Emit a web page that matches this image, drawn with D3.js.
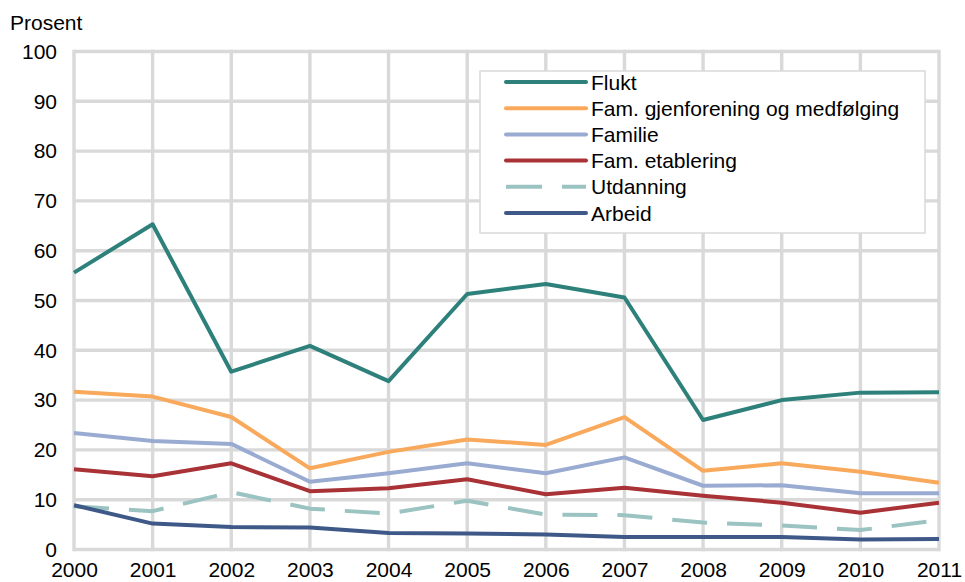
<!DOCTYPE html>
<html><head><meta charset="utf-8">
<script src="https://cdn.jsdelivr.net/npm/d3@7"></script>
<style>body{margin:0;background:#fff}svg{display:block;font-family:"Liberation Sans",Arial,sans-serif}</style>
</head><body><svg id="c" width="965" height="582"></svg>
<script>
const years = [2000,2001,2002,2003,2004,2005,2006,2007,2008,2009,2010,2011];
const yTicks = [0,10,20,30,40,50,60,70,80,90,100];
const seriesNames = ["Flukt","Fam. gjenforening og medfølging","Familie","Fam. etablering","Utdanning","Arbeid"];
const flukt = [55.6,65.3,35.7,40.9,33.8,51.3,53.3,50.6,26.0,30.0,31.5,31.6];
const famGjenforening = [31.7,30.7,26.6,16.3,19.6,22.1,21.0,26.6,15.8,17.3,15.6,13.4];
const familie = [23.4,21.8,21.2,13.6,15.3,17.3,15.3,18.5,12.8,12.9,11.3,11.3];
const famEtablering = [16.1,14.7,17.3,11.7,12.3,14.1,11.1,12.4,10.8,9.4,7.4,9.4];
const utdanning = [8.7,7.7,11.5,8.2,7.2,9.8,7.0,6.9,5.4,4.8,3.9,5.9];
const arbeid = [8.9,5.2,4.5,4.4,3.3,3.2,3.0,2.5,2.5,2.5,2.0,2.1];
const colors = ["#2e817b","#f9a95c","#9aabd2","#a83236","#9ac3c1","#3e5987"];
const dashes = [null,null,null,null,"35,20",null];
const values = [flukt,famGjenforening,familie,famEtablering,utdanning,arbeid];

const svg = d3.select("#c");
const x = d3.scalePoint().domain(years).range([74,939]);
const y = d3.scaleLinear().domain([0,100]).range([549.5,51.5]);
const grid = "#d9d9d9";
const FS = 21;

// grid
svg.append("g").selectAll("line.h").data(yTicks).join("line")
  .attr("x1",74).attr("x2",939).attr("y1",d=>y(d)).attr("y2",d=>y(d))
  .attr("stroke",grid).attr("stroke-width",3.4);
svg.append("g").selectAll("line.v").data(years).join("line")
  .attr("x1",d=>x(d)).attr("x2",d=>x(d)).attr("y1",y(100)-1.7).attr("y2",y(0)+1.7)
  .attr("stroke",grid).attr("stroke-width",3.4);

// axes
const yAxis = svg.append("g").attr("transform","translate(57,0)")
  .call(d3.axisLeft(y).tickValues(yTicks).tickSize(0).tickPadding(0));
yAxis.select(".domain").remove();
yAxis.selectAll("text").attr("font-size",FS).attr("fill","#000").attr("font-family","Liberation Sans, Arial, sans-serif");

const xAxis = svg.append("g").attr("transform","translate(0,562)")
  .call(d3.axisBottom(x).tickFormat(d3.format("d")).tickSize(0).tickPadding(0));
xAxis.select(".domain").remove();
xAxis.selectAll("text").attr("font-size",FS).attr("fill","#000").attr("font-family","Liberation Sans, Arial, sans-serif");

svg.append("text").attr("x",10).attr("y",30).attr("font-size",FS).text("Prosent");

// lines
const line = d3.line().x((d,i)=>x(years[i])).y(d=>y(d));
values.forEach((v,k)=>{
  svg.append("path").datum(v).attr("d",line).attr("fill","none")
    .attr("stroke",colors[k]).attr("stroke-width",4)
    .attr("stroke-linejoin","round")
    .attr("stroke-dasharray",dashes[k]);
});
// legend
const lg = svg.append("g");
lg.append("rect").attr("x",480).attr("y",71).attr("width",445).attr("height",162)
  .attr("fill","#fff").attr("stroke",grid).attr("stroke-width",1.5);
seriesNames.forEach((n,k)=>{
  const yy = 82 + k*26.2;
  lg.append("line").attr("x1",506).attr("x2",586).attr("y1",yy).attr("y2",yy)
    .attr("stroke",colors[k]).attr("stroke-width",4)
    .attr("stroke-linecap",dashes[k]?"butt":"round")
    .attr("stroke-dasharray",dashes[k]?"36,20":null);
  lg.append("text").attr("x",591).attr("y",yy+7.5).attr("font-size",FS).text(n);
});
</script></body></html>
